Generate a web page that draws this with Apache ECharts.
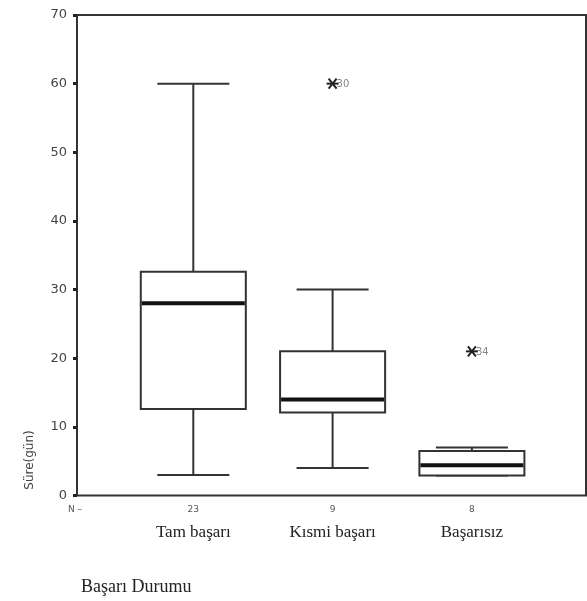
<!DOCTYPE html>
<html>
<head>
<meta charset="utf-8">
<script src="https://cdn.jsdelivr.net/npm/echarts@6/dist/echarts.min.js"></script>
<style>html,body{margin:0;padding:0;background:#fff}#c{width:587px;height:601px}</style>
</head>
<body>
<div id="c"></div>
<script>
const categories = ['Tam başarı', 'Kısmi başarı', 'Başarısız'];
const nCounts = [23, 9, 8];
const mins = [3, 4, 2.9];
const q1s = [12.6, 12.1, 2.9];
const medians = [28, 14, 4.4];
const q3s = [32.6, 21, 6.5];
const maxs = [60, 30, 7];
const outlierCats = [1, 2];
const outlierValues = [60, 21];
const outlierLabels = ['30', '34'];
const yTicks = [0, 10, 20, 30, 40, 50, 60, 70];

const boxData = categories.map((c, i) => [i, mins[i], q1s[i], medians[i], q3s[i], maxs[i]]);
const outData = outlierCats.map((c, i) => [c, outlierValues[i], outlierLabels[i]]);

function renderBox(params, api) {
  const x = api.value(0);
  const pMin = api.coord([x, api.value(1)]);
  const pQ1 = api.coord([x, api.value(2)]);
  const pMed = api.coord([x, api.value(3)]);
  const pQ3 = api.coord([x, api.value(4)]);
  const pMax = api.coord([x, api.value(5)]);
  const band = api.size([1, 0])[0];
  const bw = band * 0.754, cw = band * 0.517;
  const cx = pMed[0];
  const st = { stroke: '#333', lineWidth: 2, fill: null };
  return {
    type: 'group',
    children: [
      { type: 'line', shape: { x1: cx, y1: pMax[1], x2: cx, y2: pQ3[1] }, style: st },
      { type: 'line', shape: { x1: cx, y1: pQ1[1], x2: cx, y2: pMin[1] }, style: st },
      { type: 'line', shape: { x1: cx - cw / 2, y1: pMax[1], x2: cx + cw / 2, y2: pMax[1] }, style: st },
      { type: 'line', shape: { x1: cx - cw / 2, y1: pMin[1], x2: cx + cw / 2, y2: pMin[1] }, style: st },
      { type: 'rect', shape: { x: cx - bw / 2, y: pQ3[1], width: bw, height: pQ1[1] - pQ3[1] }, style: { stroke: '#333', lineWidth: 2, fill: '#fff' } },
      { type: 'line', shape: { x1: cx - bw / 2 + 1, y1: pMed[1], x2: cx + bw / 2 - 1, y2: pMed[1] }, style: { stroke: '#111', lineWidth: 4 } }
    ]
  };
}

function renderOutlier(params, api) {
  const p = api.coord([api.value(0), api.value(1)]);
  const lab = outlierLabels[params.dataIndex];
  const st = { stroke: '#222', lineWidth: 2 };
  return {
    type: 'group',
    children: [
      { type: 'line', shape: { x1: p[0] - 6, y1: p[1], x2: p[0] + 6, y2: p[1] }, style: st },
      { type: 'line', shape: { x1: p[0] - 4, y1: p[1] - 5, x2: p[0] + 4, y2: p[1] + 5 }, style: st },
      { type: 'line', shape: { x1: p[0] - 4, y1: p[1] + 5, x2: p[0] + 4, y2: p[1] - 5 }, style: st },
      { type: 'text', x: p[0] + 4, y: p[1] + 1, style: { text: lab, fontSize: 10, fill: '#888', fontFamily: 'DejaVu Sans', align: 'left', verticalAlign: 'middle' } }
    ]
  };
}

const chart = echarts.init(document.getElementById('c'), null, { renderer: 'canvas' });
chart.setOption({
  animation: false,
  backgroundColor: '#fff',
  title: {
    text: 'Başarı Durumu',
    left: 76, top: 573,
    textStyle: { fontFamily: 'Liberation Serif', fontSize: 18, fontWeight: 'normal', color: '#222' }
  },
  graphic: [
    { type: 'text', x: 68, y: 510, style: { text: 'N –', fontSize: 9, fill: '#555', fontFamily: 'DejaVu Sans', align: 'left', verticalAlign: 'middle' } },
    { type: 'text', x: 30, y: 460, rotation: Math.PI / 2, style: { text: 'Süre(gün)', fontSize: 12, fill: '#444', fontFamily: 'DejaVu Sans', align: 'center', verticalAlign: 'middle' } }
  ],
  grid: [
    { left: 77, right: 1, top: 15, bottom: 105.5, show: true, borderColor: '#333', borderWidth: 2, backgroundColor: 'transparent' },
    { left: 123.65, width: 417.9, top: 15, bottom: 105.5 }
  ],
  xAxis: [
    { type: 'value', gridIndex: 0, show: false, min: 0, max: 1 },
    {
      type: 'category', gridIndex: 1, data: categories,
      axisLine: { show: false },
      axisTick: { alignWithLabel: true, length: 4, lineStyle: { width: 4, color: '#222' } },
      axisLabel: {
        margin: 8,
        formatter: (v, i) => '{n|' + nCounts[i] + '}\n{c|' + v + '}',
        rich: {
          n: { fontSize: 9, color: '#555', fontFamily: 'DejaVu Sans', lineHeight: 12 },
          c: { fontSize: 17, color: '#222', fontFamily: 'Liberation Serif', lineHeight: 35 }
        }
      }
    }
  ],
  yAxis: [
    {
      type: 'value', gridIndex: 0, min: yTicks[0], max: yTicks[yTicks.length - 1], interval: 10,
      axisLine: { show: false },
      axisTick: { show: true, length: 4, lineStyle: { width: 3, color: '#222' } },
      axisLabel: { fontSize: 13, color: '#444', fontFamily: 'DejaVu Sans', margin: 10 },
      splitLine: { show: false }
    },
    { type: 'value', gridIndex: 1, min: 0, max: 70, show: false }
  ],
  series: [
    { type: 'custom', xAxisIndex: 1, yAxisIndex: 1, renderItem: renderBox, data: boxData, encode: { x: 0, y: [1, 2, 3, 4, 5] }, z: 5 },
    { type: 'custom', xAxisIndex: 1, yAxisIndex: 1, renderItem: renderOutlier, data: outData, encode: { x: 0, y: 1 }, z: 6 }
  ]
});
</script>
</body>
</html>
